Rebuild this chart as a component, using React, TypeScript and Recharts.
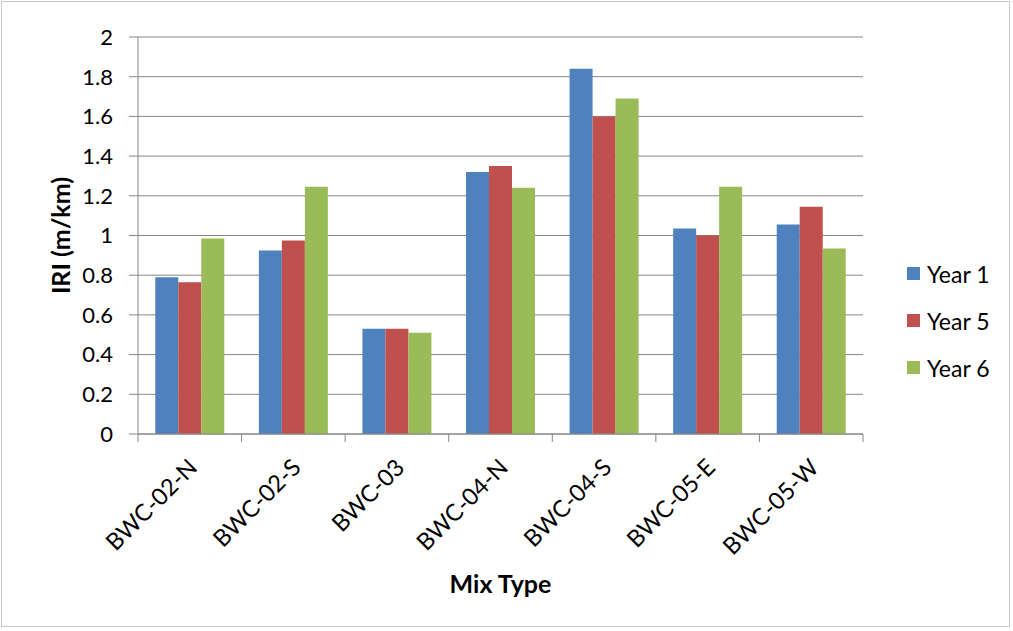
import { BarChart, Bar, XAxis, YAxis, CartesianGrid, Legend, Label } from 'recharts';

const mixTypes = ['BWC-02-N', 'BWC-02-S', 'BWC-03', 'BWC-04-N', 'BWC-04-S', 'BWC-05-E', 'BWC-05-W'];
const year1 = [0.79, 0.925, 0.53, 1.32, 1.84, 1.035, 1.055];
const year5 = [0.765, 0.975, 0.53, 1.35, 1.6, 1.0, 1.145];
const year6 = [0.985, 1.245, 0.51, 1.24, 1.69, 1.245, 0.935];
const yTicks = [0, 0.2, 0.4, 0.6, 0.8, 1, 1.2, 1.4, 1.6, 1.8, 2];

const SERIES = [
  { key: 'year1', name: 'Year 1', color: '#4F81BD' },
  { key: 'year5', name: 'Year 5', color: '#C0504D' },
  { key: 'year6', name: 'Year 6', color: '#9BBB59' },
];

const data = mixTypes.map((name, i) => ({
  name,
  year1: year1[i],
  year5: year5[i],
  year6: year6[i],
}));

const FONT = 'Lato, "Open Sans", sans-serif';
const AXIS = '#868686';

// Excel puts the tick marks between categories, so draw them ourselves
function MixTick(props: any) {
  const { x, y, payload, index } = props;
  const half = payload && payload.offset ? payload.offset : 725 / 14;
  const tx = x + 9;
  const ty = y + 35;
  return (
    <g>
      <line x1={x - half} y1={y} x2={x - half} y2={y + 8} stroke={AXIS} />
      {index === mixTypes.length - 1 && (
        <line x1={x + half} y1={y} x2={x + half} y2={y + 8} stroke={AXIS} />
      )}
      <text
        x={tx}
        y={ty}
        transform={`rotate(-45, ${tx}, ${ty})`}
        textAnchor="end"
        fill="#000"
        fontSize={23.5}
        fontFamily={FONT}
      >
        {payload.value}
      </text>
    </g>
  );
}

function LegendBox() {
  return (
    <div style={{ fontFamily: FONT, fontSize: 23, color: '#000' }}>
      {SERIES.map((s) => (
        <div key={s.key} style={{ display: 'flex', alignItems: 'center', height: 47 }}>
          <span style={{ width: 13, height: 13, background: s.color, marginRight: 7, display: 'inline-block' }} />
          <span>{s.name}</span>
        </div>
      ))}
    </div>
  );
}

export default function App() {
  return (
    <div style={{ position: 'absolute', left: 0, top: 0, width: 1013, height: 631, background: '#fff' }}>
      <div
        style={{
          position: 'absolute',
          left: 1,
          top: 1,
          width: 1009,
          height: 626,
          border: '1px solid #c8c8c8',
          boxSizing: 'border-box',
        }}
      />
      <BarChart
        width={1013}
        height={631}
        data={data}
        margin={{ top: 37, right: 150, bottom: 67, left: 78 }}
        barCategoryGap="16.7%"
        barGap={0}
      >
        <CartesianGrid vertical={false} stroke={AXIS} strokeWidth={1} />
        <XAxis
          dataKey="name"
          interval={0}
          height={130}
          stroke={AXIS}
          tickLine={false}
          tickSize={0}
          tickMargin={0}
          tick={<MixTick />}
        >
          <Label
            content={(p: any) => {
              const vb = p.viewBox || { x: 138, y: 434, width: 725, height: 130 };
              return (
                <text
                  x={vb.x + vb.width / 2}
                  y={vb.y + 159}
                  textAnchor="middle"
                  fontWeight="bold"
                  fontSize={25}
                  fontFamily={FONT}
                  fill="#000"
                >
                  Mix Type
                </text>
              );
            }}
          />
        </XAxis>
        <YAxis
          width={60}
          domain={[0, 2]}
          ticks={yTicks}
          interval={0}
          stroke={AXIS}
          tickSize={9}
          tickMargin={16}
          tick={{ fill: '#000', fontSize: 22, fontFamily: FONT }}
        >
          <Label
            content={(p: any) => {
              const vb = p.viewBox || { x: 78, y: 37, width: 60, height: 397 };
              const cx = vb.x - 18;
              const cy = vb.y + vb.height / 2;
              return (
                <text
                  x={cx}
                  y={cy}
                  transform={`rotate(-90, ${cx}, ${cy})`}
                  textAnchor="middle"
                  dominantBaseline="central"
                  fontWeight="bold"
                  fontSize={25}
                  fontFamily={FONT}
                  fill="#000"
                >
                  IRI (m/km)
                </text>
              );
            }}
          />
        </YAxis>
        <Legend
          layout="horizontal"
          align="center"
          verticalAlign="middle"
          wrapperStyle={{ left: 907, top: 250, width: 100 }}
          content={() => <LegendBox />}
        />
        {SERIES.map((s) => (
          <Bar key={s.key} dataKey={s.key} name={s.name} fill={s.color} isAnimationActive={false} />
        ))}
      </BarChart>
    </div>
  );
}
